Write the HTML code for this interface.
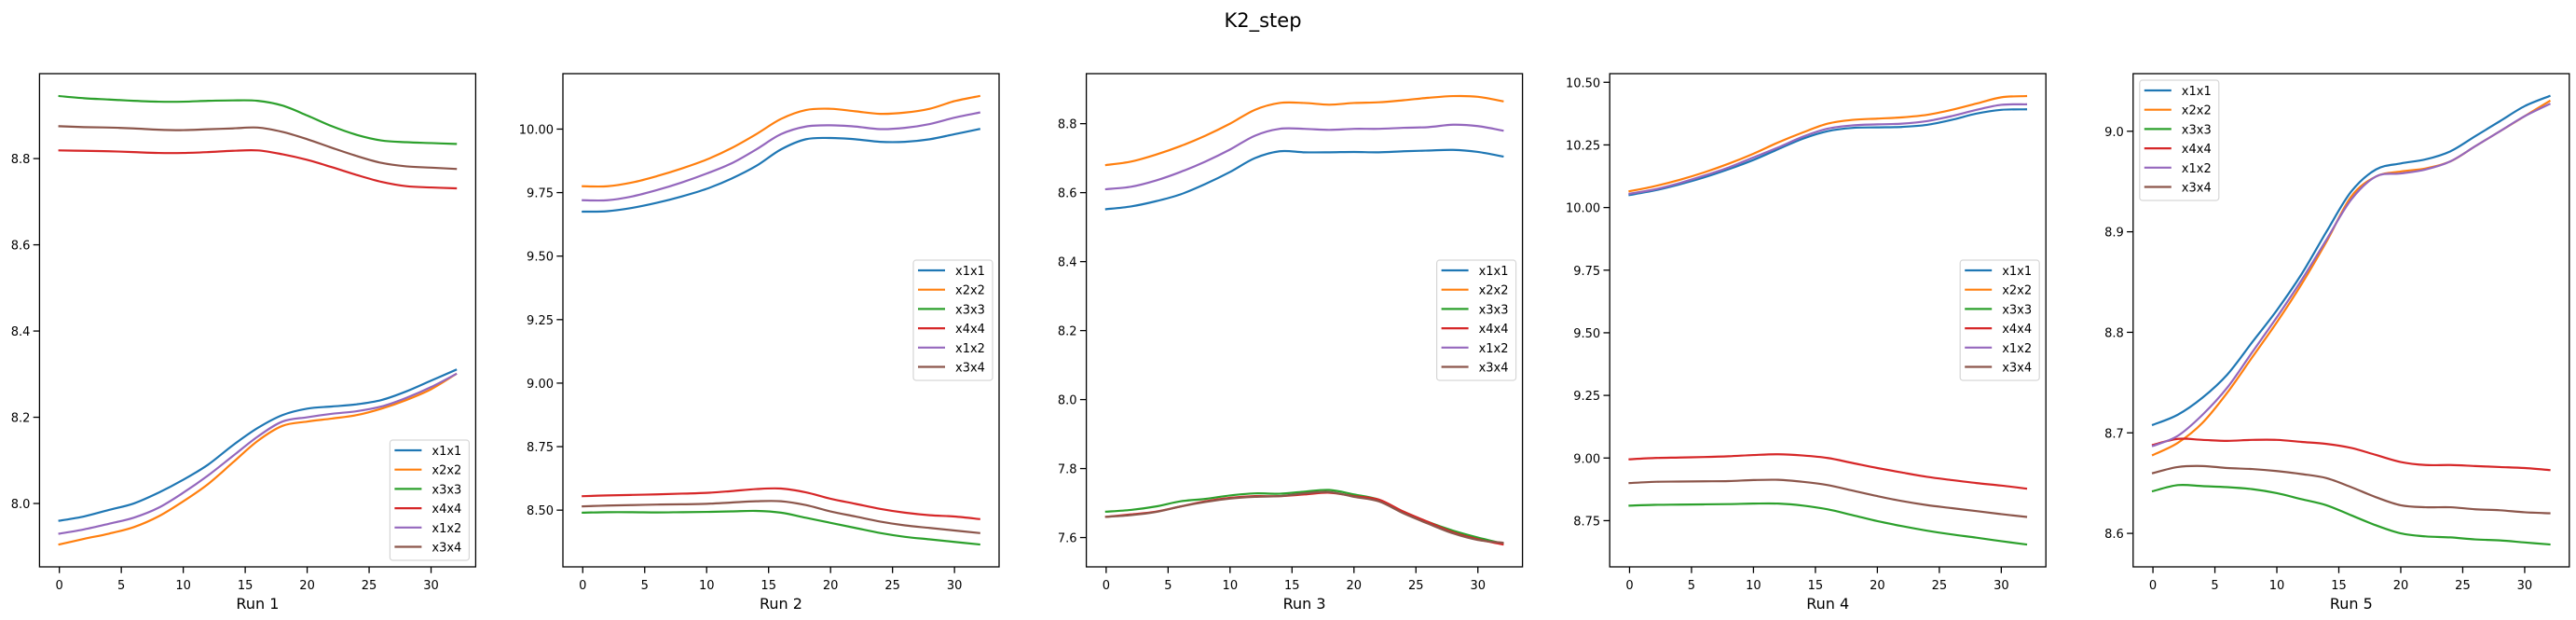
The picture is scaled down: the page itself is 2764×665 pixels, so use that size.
<!DOCTYPE html>
<html><head><meta charset="utf-8"><style>
html,body{margin:0;padding:0;background:#fff;}
svg{display:block;font-family:"DejaVu Sans","Liberation Sans",sans-serif;}
</style></head><body>
<svg id="chart" width="2764" height="665" viewBox="0 0 2764 665" xmlns="http://www.w3.org/2000/svg">
<rect width="2764" height="665" fill="#fff"/>
<text x="1355" y="29" font-size="21" text-anchor="middle" fill="#000">K2_step</text>
</svg>
<script>
const steps = [0,2,4,6,8,10,12,14,16,18,20,22,24,26,28,30,32];
const seriesNames = ['x1x1','x2x2','x3x3','x4x4','x1x2','x3x4'];
const seriesColors = ['#1f77b4','#ff7f0e','#2ca02c','#d62728','#9467bd','#8c564b'];
const runLabels = ['Run 1','Run 2','Run 3','Run 4','Run 5'];
const xTicks = [0,5,10,15,20,25,30];

const run1 = [
 [7.96,7.97,7.985,8.0,8.025,8.055,8.09,8.135,8.175,8.205,8.22,8.225,8.23,8.24,8.26,8.285,8.31],
 [7.905,7.918,7.93,7.945,7.97,8.005,8.045,8.095,8.145,8.18,8.19,8.197,8.205,8.22,8.24,8.265,8.3],
 [8.945,8.94,8.937,8.934,8.932,8.932,8.934,8.935,8.934,8.923,8.9,8.875,8.855,8.842,8.838,8.836,8.834],
 [8.819,8.818,8.817,8.815,8.813,8.813,8.815,8.818,8.819,8.81,8.797,8.78,8.762,8.746,8.736,8.733,8.731],
 [7.93,7.94,7.953,7.967,7.99,8.025,8.065,8.11,8.155,8.19,8.2,8.208,8.214,8.225,8.245,8.27,8.3],
 [8.875,8.873,8.872,8.87,8.867,8.866,8.868,8.87,8.872,8.862,8.845,8.825,8.806,8.79,8.782,8.779,8.776]
];
const run2 = [
 [9.675,9.677,9.69,9.71,9.735,9.765,9.805,9.855,9.92,9.96,9.965,9.96,9.95,9.95,9.96,9.98,10.0],
 [9.775,9.775,9.79,9.815,9.845,9.88,9.925,9.98,10.04,10.075,10.08,10.07,10.06,10.065,10.08,10.11,10.13],
 [8.49,8.492,8.492,8.491,8.492,8.493,8.495,8.497,8.49,8.47,8.45,8.43,8.41,8.395,8.385,8.375,8.365],
 [8.555,8.558,8.56,8.562,8.565,8.568,8.575,8.583,8.585,8.57,8.545,8.525,8.505,8.49,8.48,8.475,8.465],
 [9.72,9.72,9.735,9.76,9.79,9.825,9.865,9.92,9.98,10.01,10.015,10.01,10.0,10.005,10.02,10.045,10.065],
 [8.515,8.518,8.52,8.522,8.523,8.525,8.53,8.535,8.535,8.52,8.495,8.475,8.455,8.44,8.43,8.42,8.41]
];
const run3 = [
 [8.552,8.56,8.575,8.595,8.625,8.66,8.7,8.72,8.717,8.717,8.718,8.717,8.72,8.722,8.724,8.718,8.705],
 [8.68,8.69,8.71,8.735,8.765,8.8,8.84,8.86,8.86,8.855,8.86,8.862,8.868,8.875,8.88,8.878,8.865],
 [7.675,7.68,7.69,7.705,7.712,7.722,7.728,7.727,7.733,7.738,7.725,7.71,7.675,7.645,7.62,7.6,7.583],
 [7.66,7.667,7.675,7.69,7.705,7.715,7.72,7.72,7.725,7.73,7.72,7.71,7.675,7.645,7.615,7.595,7.58],
 [8.61,8.617,8.635,8.66,8.69,8.725,8.765,8.785,8.785,8.782,8.785,8.785,8.788,8.79,8.797,8.793,8.78],
 [7.66,7.665,7.674,7.69,7.703,7.713,7.718,7.72,7.728,7.732,7.718,7.705,7.67,7.64,7.612,7.593,7.585]
];
const run4 = [
 [10.05,10.068,10.092,10.12,10.153,10.19,10.233,10.275,10.305,10.318,10.32,10.322,10.33,10.35,10.375,10.39,10.392],
 [10.065,10.085,10.11,10.14,10.175,10.215,10.26,10.3,10.335,10.35,10.355,10.36,10.37,10.39,10.415,10.44,10.445],
 [8.81,8.813,8.814,8.815,8.816,8.818,8.818,8.81,8.795,8.772,8.748,8.728,8.71,8.695,8.682,8.668,8.655],
 [8.995,9.0,9.002,9.004,9.007,9.012,9.015,9.01,9.0,8.98,8.96,8.942,8.925,8.912,8.9,8.89,8.878],
 [10.055,10.072,10.097,10.127,10.16,10.2,10.24,10.283,10.315,10.328,10.332,10.335,10.345,10.365,10.39,10.41,10.412],
 [8.9,8.905,8.906,8.907,8.908,8.912,8.913,8.905,8.892,8.87,8.848,8.828,8.812,8.8,8.788,8.776,8.765]
];
const run5 = [
 [8.708,8.718,8.735,8.758,8.79,8.822,8.858,8.9,8.94,8.962,8.968,8.972,8.98,8.995,9.01,9.025,9.035],
 [8.678,8.69,8.71,8.74,8.775,8.81,8.848,8.89,8.935,8.955,8.96,8.963,8.97,8.985,9.0,9.015,9.03],
 [8.642,8.648,8.647,8.646,8.644,8.64,8.634,8.628,8.618,8.608,8.6,8.597,8.596,8.594,8.593,8.591,8.589],
 [8.688,8.694,8.693,8.692,8.693,8.693,8.691,8.689,8.685,8.678,8.671,8.668,8.668,8.667,8.666,8.665,8.663],
 [8.687,8.697,8.718,8.745,8.78,8.815,8.852,8.892,8.932,8.955,8.958,8.962,8.97,8.985,9.0,9.015,9.027],
 [8.66,8.666,8.667,8.665,8.664,8.662,8.659,8.655,8.646,8.636,8.628,8.626,8.626,8.624,8.623,8.621,8.62]
];
const runs = [run1, run2, run3, run4, run5];
const yTicks1 = [8.0,8.2,8.4,8.6,8.8];
const yTicks2 = [8.50,8.75,9.00,9.25,9.50,9.75,10.00];
const yTicks3 = [7.6,7.8,8.0,8.2,8.4,8.6,8.8];
const yTicks4 = [8.75,9.00,9.25,9.50,9.75,10.00,10.25,10.50];
const yTicks5 = [8.6,8.7,8.8,8.9,9.0];
const yTickSets = [yTicks1,yTicks2,yTicks3,yTicks4,yTicks5];
const tickDecimals = [1,2,1,2,1];
const legendLocs = ['lower right','center right','center right','center right','upper left'];

const NS='http://www.w3.org/2000/svg';
const svg=document.getElementById('chart');
function mk(tag, attrs, parent){const e=document.createElementNS(NS,tag);for(const k in attrs)e.setAttribute(k,attrs[k]);(parent||svg).appendChild(e);return e;}

const AX_W=468, AX_T=79, AX_B=608, AX_GAP=561.6, AX_L0=42.4;

function smoothPath(pts){
  let d='M'+pts[0][0].toFixed(2)+','+pts[0][1].toFixed(2);
  for(let i=0;i<pts.length-1;i++){
    const p0=pts[Math.max(0,i-1)],p1=pts[i],p2=pts[i+1],p3=pts[Math.min(pts.length-1,i+2)];
    const c1x=p1[0]+(p2[0]-p0[0])/6,c1y=p1[1]+(p2[1]-p0[1])/6;
    const c2x=p2[0]-(p3[0]-p1[0])/6,c2y=p2[1]-(p3[1]-p1[1])/6;
    d+=' C'+c1x.toFixed(2)+','+c1y.toFixed(2)+' '+c2x.toFixed(2)+','+c2y.toFixed(2)+' '+p2[0].toFixed(2)+','+p2[1].toFixed(2);
  }
  return d;
}

runs.forEach((run,pi)=>{
  const L=AX_L0+pi*AX_GAP, R=L+AX_W;
  const g=mk('g',{});
  
  
  let mn=Infinity,mx=-Infinity;
  run.forEach(s=>s.forEach(v=>{mn=Math.min(mn,v);mx=Math.max(mx,v);}));
  const pad=(mx-mn)*0.05; const y0=mn-pad, y1=mx+pad;
  const xmin=steps[0], xmax=steps[steps.length-1]; const xp=(xmax-xmin)*0.05;
  const sx=v=>L+(v-(xmin-xp))/((xmax+xp)-(xmin-xp))*AX_W;
  const sy=v=>AX_B-(v-y0)/(y1-y0)*(AX_B-AX_T);
  xTicks.forEach(t=>{
    const x=sx(t);
    const tk=mk('line',{x1:x,x2:x,y1:AX_B,y2:AX_B+6.7,stroke:'#000','stroke-width':1.3},g);
    
    
    const tl=mk('text',{x:x,y:AX_B+24,'font-size':13,'text-anchor':'middle',fill:'#000'},g);
    
    
    tl.textContent=t;
  });
  yTickSets[pi].forEach(t=>{
    const y=sy(t); if(y<AX_T-1||y>AX_B+1) return;
    const tk=mk('line',{x1:L-6.7,x2:L,y1:y,y2:y,stroke:'#000','stroke-width':1.3},g);
    
    
    const tl=mk('text',{x:L-10,y:y+5,'font-size':13,'text-anchor':'end',fill:'#000'},g);
    
    
    tl.textContent=t.toFixed(tickDecimals[pi]);
  });
  const xl=mk('text',{x:(L+R)/2,y:AX_B+45,'font-size':16,'text-anchor':'middle',fill:'#000'},g);
  
  
  xl.textContent=runLabels[pi];
  run.forEach((s,si)=>{
    const pts=s.map((v,i)=>[sx(steps[i]),sy(v)]);
    const p=mk('path',{d:smoothPath(pts),fill:'none',stroke:seriesColors[si],'stroke-width':2.2,'stroke-linejoin':'round','stroke-linecap':'square'},g);
    
    
  });
  const fr=mk('rect',{x:L,y:AX_T,width:AX_W,height:AX_B-AX_T,fill:'none',stroke:'#000','stroke-width':1.3},g);
  
  
  const lw=85, lh=129; let lx, ly;
  const loc=legendLocs[pi];
  if(loc==='lower right'){lx=R-7-lw; ly=AX_B-7-lh;}
  else if(loc==='center right'){lx=R-7-lw; ly=(AX_T+AX_B)/2-lh/2;}
  else {lx=L+7; ly=AX_T+7;}
  const lg=mk('g',{},g);
  
  
  mk('rect',{x:lx,y:ly,width:lw,height:lh,rx:3,fill:'#fff','fill-opacity':0.8,stroke:'#d6d6d6','stroke-width':1.2},lg);
  seriesNames.forEach((n,si)=>{
    const yy=ly+11+si*20.7;
    const e=mk('g',{},lg);
    
    
    mk('line',{x1:lx+5,x2:lx+34,y1:yy,y2:yy,stroke:seriesColors[si],'stroke-width':2.2},e);
    const t=mk('text',{x:lx+45,y:yy+5,'font-size':13,fill:'#000'},e);
    t.textContent=n;
  });
});
</script>
</body></html>
